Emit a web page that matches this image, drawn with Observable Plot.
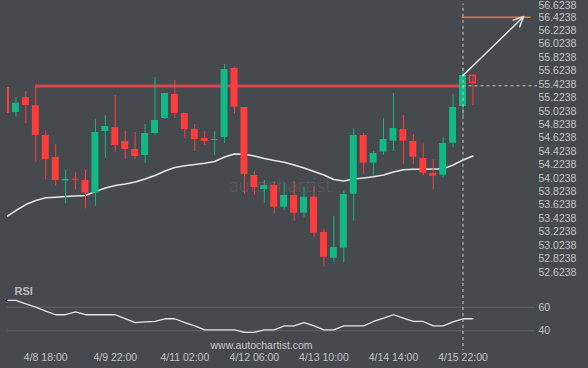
<!DOCTYPE html>
<html><head><meta charset="utf-8">
<script src="https://cdn.jsdelivr.net/npm/d3@7"></script>
<script src="https://cdn.jsdelivr.net/npm/@observablehq/plot@0.6"></script>
<style>
html,body{margin:0;padding:0;background:#46494e;}
#chart{width:588px;height:368px;overflow:hidden;background:#46494e;}
#chart svg{display:block;}
</style></head><body><div id="chart"></div>
<script>
// ---- data (4-hour candles, index 0..47) ----
const open  = [55.376,55.004,55.227,55.108,54.661,54.333,53.983,54.010,53.990,53.801,54.720,54.780,54.571,54.452,54.363,54.691,54.914,55.272,54.989,54.750,54.616,54.586,54.631,55.659,55.078,54.065,53.856,53.916,53.592,53.767,53.503,53.741,53.215,52.832,52.981,53.786,54.661,54.248,54.412,54.576,54.750,54.571,54.318,54.095,54.069,54.546,55.093,55.550];
const high  = [55.376,55.227,55.316,55.406,54.735,54.527,54.150,54.105,54.150,54.895,54.959,55.257,54.720,54.706,54.825,55.525,55.287,55.481,54.989,54.825,54.720,54.720,55.719,55.674,55.078,54.124,53.990,53.975,53.941,53.975,53.890,53.901,53.270,53.454,53.831,54.761,54.691,54.422,54.910,55.287,54.959,54.676,54.537,54.303,54.626,55.276,55.655,55.550];
const low   = [54.989,54.934,54.835,54.263,54.001,53.905,53.643,53.852,53.568,53.607,54.323,54.412,54.299,54.299,54.248,54.661,54.899,54.914,54.616,54.422,54.512,54.363,54.542,54.984,53.792,53.771,53.652,53.494,53.543,53.384,53.443,53.136,52.698,52.768,52.768,53.384,54.084,54.050,54.363,54.422,54.224,54.224,54.060,53.852,54.030,54.478,54.944,55.108];
const close = [54.989,55.142,55.108,54.661,54.303,53.990,54.005,53.995,53.801,54.706,54.795,54.512,54.452,54.348,54.691,54.884,55.287,54.989,54.750,54.601,54.571,54.601,55.644,55.083,54.080,53.886,53.916,53.592,53.767,53.503,53.741,53.205,52.847,52.992,53.782,54.661,54.248,54.393,54.601,54.765,54.576,54.337,54.099,54.054,54.542,55.078,55.555,55.446];
const ma    = [53.446,53.543,53.632,53.692,53.732,53.741,53.752,53.759,53.767,53.826,53.878,53.916,53.938,53.968,54.012,54.065,54.132,54.184,54.209,54.229,54.248,54.273,54.340,54.385,54.381,54.355,54.318,54.288,54.261,54.221,54.176,54.124,54.072,54.005,53.983,54.012,54.027,54.045,54.072,54.117,54.151,54.157,54.159,54.162,54.163,54.221,54.296,54.355];
const rsi   = [65.7,65.7,62.9,60.0,56.6,53.6,53.6,56.1,53.6,53.6,53.6,53.6,50.4,47.0,47.5,47.9,50.2,50.2,47.0,44.1,40.8,40.8,40.8,40.8,38.6,38.6,40.8,40.8,44.2,44.2,47.0,44.1,40.8,40.8,44.2,44.2,44.2,47.9,50.8,53.6,50.8,47.9,47.9,44.2,44.2,47.5,50.2,50.2];
const tickIndex  = [4, 11, 18, 25, 32, 39, 46];
const tickLabels = ["4/8 18:00","4/9 22:00","4/11 02:00","4/12 06:00","4/13 10:00","4/14 14:00","4/15 22:00"];
const priceTicks = [52.6238,52.8238,53.0238,53.2238,53.4238,53.6238,53.8238,54.0238,54.2238,54.4238,54.6238,54.8238,55.0238,55.2238,55.4238,55.6238,55.8238,56.0238,56.2238,56.4238];
const topTick = 56.6238;
const rsiTicks = [40, 60];
const resistance = 55.400;     // breakout level
const resistanceStart = 3;     // candle where the level starts
const lastIndex = 46;          // breakout candle (dashed vertical)
const lastPrice = 55.401;
const target = 56.4238;        // forecast level
const targetEnd = 52.86;
const arrowEnd = {i: 52.1, p: 56.434};

// ---- layout / scales ----
const W = 588, LEFT = 7, RIGHT = 53;
const step = 9.935, first = 5.5;
const xDomain = [(LEFT - first) / step, (W - RIGHT - first) / step];
const RED = "#ff3d3d", GREEN = "#12b886";
const font = "'Liberation Sans', Arial, sans-serif";

const candles = open.map((o, i) => ({
  i, o, h: high[i], l: low[i], c: close[i], ma: ma[i], rsi: rsi[i],
  col: close[i] >= o ? GREEN : RED, last: i === open.length - 1
}));

const main = Plot.plot({
  width: W, height: 283,
  marginLeft: LEFT, marginRight: RIGHT, marginTop: 0, marginBottom: 0,
  style: {background: "transparent", color: "#c3c5c8", fontFamily: font, fontSize: "10.5px"},
  x: {domain: xDomain, axis: null},
  y: {domain: [52.4552, 56.6727], axis: null},
  color: {type: "identity"},
  marks: [
    Plot.text(["autochartist"], {frameAnchor: "top-left", dx: 273, dy: 185, text: d => d, fill: "#595c61",
      fontSize: 20, fontWeight: 300, textAnchor: "middle", lineAnchor: "middle", fontFamily: "Lato, 'Open Sans', sans-serif", letterSpacing: 2}),
    Plot.line(candles, {x: "i", y: "ma", stroke: "#e6e6e6", strokeWidth: 1.5, clip: true}),
    Plot.ruleY([{p: resistance, a: resistanceStart, b: lastIndex}], {y: "p", x1: "a", x2: "b", stroke: "#e2474b", strokeWidth: 3, strokeOpacity: 0.95}),
    Plot.ruleX(candles, {x: "i", y1: "l", y2: "h", stroke: "col", strokeWidth: 1, clip: true}),
    Plot.rect(candles.filter(d => !d.last), {x1: d => d.i - 0.35, x2: d => d.i + 0.35, y1: "o", y2: "c", fill: "col", clip: true}),
    Plot.rect(candles.filter(d => d.last), {x1: d => d.i - 0.3, x2: d => d.i + 0.3, y1: "o", y2: "c", fill: "none", stroke: "col", strokeWidth: 1.5}),
    Plot.ruleX([lastIndex], {stroke: "#c8c8c8", strokeWidth: 1, strokeDasharray: "3,3", y1: 56.62}),
    Plot.ruleY([{p: lastPrice, a: lastIndex, b: 53.5}], {y: "p", x1: "a", x2: "b", stroke: "#c8c8c8", strokeWidth: 1, strokeDasharray: "3,3"}),
    Plot.ruleY([{p: target, a: lastIndex - 0.08, b: targetEnd}], {y: "p", x1: "a", x2: "b", stroke: "#f07331", strokeWidth: 1.5}),
    Plot.arrow([{a: lastIndex, pa: close[lastIndex], b: arrowEnd.i, pb: arrowEnd.p}], {x1: "a", y1: "pa", x2: "b", y2: "pb",
      stroke: "#e8e8e8", strokeWidth: 1.5, headLength: 11, headAngle: 50}),
    Plot.axisY({anchor: "right", ticks: priceTicks, tickSize: 0, tickPadding: 3, tickFormat: d => d.toFixed(4), label: null, fill: "#c3c5c8"}),
    Plot.text([topTick], {y: d => d, text: d => d.toFixed(4), frameAnchor: "right", dx: 3, dy: 2, textAnchor: "start", lineAnchor: "middle", fill: "#c3c5c8"})
  ]
});

const lower = Plot.plot({
  width: W, height: 85,
  marginLeft: LEFT, marginRight: RIGHT, marginTop: 0, marginBottom: 18,
  style: {background: "transparent", color: "#c3c5c8", fontFamily: font, fontSize: "10.5px"},
  x: {domain: xDomain, axis: null},
  y: {domain: [23.3, 80.08], axis: null},
  marks: [
    Plot.ruleY(rsiTicks, {stroke: "#606368", strokeWidth: 1}),
    Plot.line(candles, {x: "i", y: "rsi", stroke: "#e6e6e6", strokeWidth: 1.3, clip: true}),
    Plot.ruleX([lastIndex], {stroke: "#c8c8c8", strokeWidth: 1, strokeDasharray: "3,3"}),
    Plot.text(["RSI"], {frameAnchor: "top-left", dx: 7, dy: 8, text: d => d, fill: "#b8bbbf", fontWeight: "bold", fontSize: 11, textAnchor: "start", lineAnchor: "middle"}),
    Plot.text(["www.autochartist.com"], {frameAnchor: "top-left", dx: 203, dy: 62, text: d => d, fill: "#c8cacc", fontSize: 10.5, textAnchor: "start", lineAnchor: "middle", letterSpacing: 0.9}),
    Plot.axisY({anchor: "right", ticks: rsiTicks, tickSize: 0, tickPadding: 3, label: null, fill: "#c3c5c8"}),
    Plot.axisX({ticks: tickIndex, tickSize: 0, tickPadding: 3, tickFormat: d => tickLabels[tickIndex.indexOf(d)], label: null, fill: "#c3c5c8"})
  ]
});

const el = document.getElementById("chart");
el.appendChild(main);
el.appendChild(lower);
</script></body></html>
